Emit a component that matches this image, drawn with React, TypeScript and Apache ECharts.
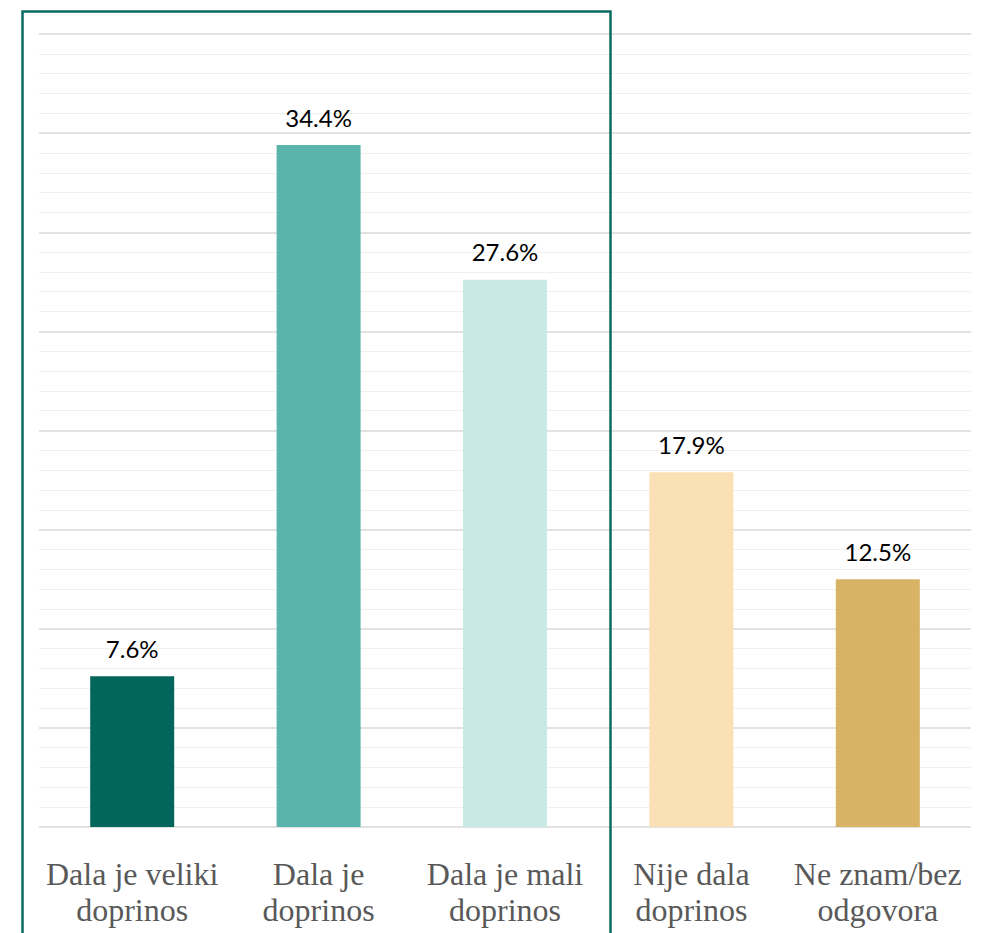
import React, { useEffect, useRef } from "react";
import * as echarts from "echarts";

const categories = [
  "Dala je veliki\ndoprinos",
  "Dala je\ndoprinos",
  "Dala je mali\ndoprinos",
  "Nije dala\ndoprinos",
  "Ne znam/bez\nodgovora",
];
const values = [7.6, 34.4, 27.6, 17.9, 12.5];
const barColors = ["#03665C", "#5BB4AC", "#C7EAE4", "#FCE0B5", "#D8B365"];
const yMin = 0;
const yMax = 40;
const yInterval = 5;

export default function App() {
  const ref = useRef<HTMLDivElement>(null);
  useEffect(() => {
    if (!ref.current) return;
    const chart = echarts.init(ref.current, null, { renderer: "svg" });
    chart.setOption({
      animation: false,
      backgroundColor: "#ffffff",
      grid: { left: 39, right: 11, top: 34, bottom: 106, containLabel: false },
      xAxis: {
        type: "category",
        data: categories,
        axisLine: { show: false },
        axisTick: { show: false },
        axisLabel: {
          interval: 0,
          margin: 29,
          color: "#595959",
          fontFamily: "Liberation Serif",
          fontSize: 32,
          lineHeight: 36,
          align: "center",
        },
      },
      yAxis: {
        type: "value",
        min: yMin,
        max: yMax,
        interval: yInterval,
        axisLabel: { show: false },
        axisLine: { show: false },
        axisTick: { show: false },
        splitLine: { show: true, lineStyle: { color: "#D9D9D9", width: 1.5 } },
        minorTick: { show: false, splitNumber: 5 },
        minorSplitLine: { show: true, lineStyle: { color: "#F0F0F0", width: 1.2 } },
      },
      series: [
        {
          type: "bar",
          barWidth: 84,
          data: values.map((v, i) => ({ value: v, itemStyle: { color: barColors[i] } })),
          label: {
            show: true,
            position: "top",
            distance: 16,
            formatter: (p: any) => p.value.toFixed(1) + "%",
            color: "#000000",
            fontFamily: "Lato",
            fontSize: 24,
          },
        },
      ],
      graphic: [
        {
          type: "rect",
          left: 20,
          top: 9,
          shape: { x: 0, y: 0, width: 588, height: 940 },
          style: { fill: "none", stroke: "#0B6B60", lineWidth: 2.5 },
          z: 10,
        },
      ],
    });
    return () => chart.dispose();
  }, []);
  return (
    <div
      ref={ref}
      style={{ position: "absolute", left: 0, top: 0, width: 982, height: 933 }}
    />
  );
}
